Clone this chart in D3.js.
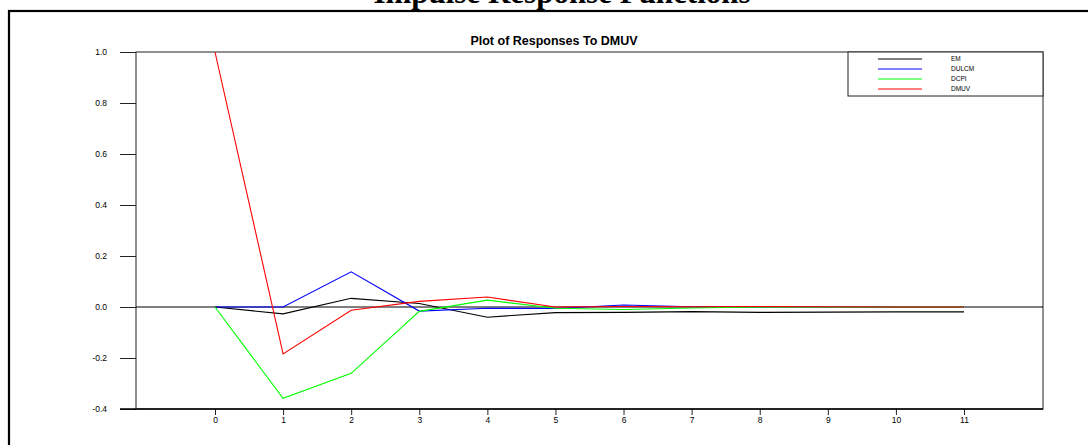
<!DOCTYPE html>
<html lang="en">
  <head>
    <meta charset="UTF-8" />
    <title>Impulse Response Functions</title>
    <style>
      body { margin: 0; background: #fff; overflow: hidden; }
      text { font-family: "Liberation Sans", Arial, sans-serif; }
    </style>
  </head>
  <body>
    <script src="https://cdn.jsdelivr.net/npm/d3@7"></script>
    <script>
    // periods and responses
    var steps = [0, 1, 2, 3, 4, 5, 6, 7, 8, 9, 10, 11];
    var em    = [0, -0.027, 0.034, 0.014, -0.040, -0.022, -0.021, -0.018, -0.021, -0.020, -0.019, -0.019];
    var dulcm = [0, 0, 0.138, -0.016, -0.005, -0.006, 0.008, 0.001, 0.001, 0.001, 0, 0];
    var dcpi  = [0, -0.358, -0.260, -0.017, 0.027, -0.005, -0.010, -0.004, 0, 0, 0, 0];
    var dmuv  = [1.0, -0.184, -0.013, 0.022, 0.039, 0, 0.002, 0.001, 0.002, 0.001, 0, 0];
    var seriesNames = ["EM", "DULCM", "DCPI", "DMUV"];
    var seriesColors = ["#000000", "#0000ff", "#00ff00", "#ff0000"];
    var yTicks = [-0.4, -0.2, 0.0, 0.2, 0.4, 0.6, 0.8, 1.0];

    var width = 1088;
    var height = 445;

    var plot = { left: 136, right: 1043, top: 52, bottom: 409 };

    var svg = d3.select("body").append("svg")
        .attr("width", width)
        .attr("height", height);

    // outer frame
    svg.append("rect")
        .attr("x", 9)
        .attr("y", 11)
        .attr("width", 1200)
        .attr("height", 600)
        .style("fill", "none")
        .style("stroke", "#000")
        .style("stroke-width", 2.2);

    // main title, mostly cut off by the top of the page (as in the original)
    svg.append("text")
        .attr("x", 562)
        .attr("y", 3)
        .attr("text-anchor", "middle")
        .style("font-family", "'Liberation Serif', 'Times New Roman', serif")
        .style("font-weight", "bold")
        .style("font-size", "31px")
        .text("Impulse Response Functions");

    svg.append("text")
        .attr("x", 554)
        .attr("y", 45)
        .attr("text-anchor", "middle")
        .style("font-weight", "bold")
        .style("font-size", "12.5px")
        .text("Plot of Responses To DMUV");

    var xScale = d3.scaleLinear()
        .domain([-1.16, 12.16])
        .range([plot.left, plot.right]);

    var yScale = d3.scaleLinear()
        .domain([-0.4, 1.0])
        .range([plot.bottom, plot.top]);

    // plot box
    svg.append("rect")
        .attr("x", plot.left)
        .attr("y", plot.top)
        .attr("width", plot.right - plot.left)
        .attr("height", plot.bottom - plot.top)
        .style("fill", "none")
        .style("stroke", "#222")
        .style("stroke-width", 1);

    var yAxis = d3.axisLeft(yScale)
        .tickValues(yTicks)
        .tickSize(16)
        .tickPadding(13)
        .tickFormat(function(d) { return d.toFixed(1); });

    var gy = svg.append("g")
        .attr("class", "y-axis")
        .attr("transform", "translate(" + plot.left + ",0)")
        .call(yAxis);
    gy.select(".domain").remove();
    gy.selectAll("line").style("stroke", "#222");
    gy.selectAll("text")
        .style("font-size", "8.5px")
        .style("fill", "#000");

    var xAxis = d3.axisBottom(xScale)
        .tickValues(steps)
        .tickSize(6)
        .tickPadding(2)
        .tickFormat(function(d) { return String(d); });

    var gx = svg.append("g")
        .attr("class", "x-axis")
        .attr("transform", "translate(0," + plot.bottom + ")")
        .call(xAxis);
    gx.select(".domain").remove();
    gx.selectAll("line").style("stroke", "#222");
    gx.selectAll("text")
        .style("font-size", "8.5px")
        .style("fill", "#000");

    // heavier bottom line
    svg.append("line")
        .attr("x1", plot.left - 16)
        .attr("x2", plot.right)
        .attr("y1", plot.bottom)
        .attr("y2", plot.bottom)
        .style("stroke", "#000")
        .style("stroke-width", 1.6);

    // zero line
    svg.append("line")
        .attr("x1", plot.left)
        .attr("x2", plot.right)
        .attr("y1", yScale(0))
        .attr("y2", yScale(0))
        .style("stroke", "#000")
        .style("stroke-width", 1);

    var allSeries = [em, dulcm, dcpi, dmuv];

    var line = d3.line()
        .x(function(d, i) { return xScale(steps[i]); })
        .y(function(d) { return yScale(d); });

    svg.selectAll(".irf")
        .data(allSeries)
        .enter()
        .append("path")
        .attr("class", "irf")
        .attr("d", line)
        .style("fill", "none")
        .style("stroke", function(d, i) { return seriesColors[i]; })
        .style("stroke-width", 1.1);

    // legend
    var legend = { x: 848, y: 52, w: 195, h: 44 };
    svg.append("rect")
        .attr("x", legend.x)
        .attr("y", legend.y)
        .attr("width", legend.w)
        .attr("height", legend.h)
        .style("fill", "#fff")
        .style("stroke", "#222")
        .style("stroke-width", 1);

    var rows = svg.selectAll(".leg")
        .data(seriesNames)
        .enter()
        .append("g")
        .attr("class", "leg")
        .attr("transform", function(d, i) {
          return "translate(0," + (legend.y + 7 + i * 10) + ")";
        });

    rows.append("line")
        .attr("x1", 878)
        .attr("x2", 922)
        .style("stroke", function(d, i) { return seriesColors[i]; })
        .style("stroke-width", 1.2);

    rows.append("text")
        .attr("x", 951)
        .attr("y", 2.3)
        .style("font-size", "6.5px")
        .text(function(d) { return d; });
    </script>
  </body>
</html>
